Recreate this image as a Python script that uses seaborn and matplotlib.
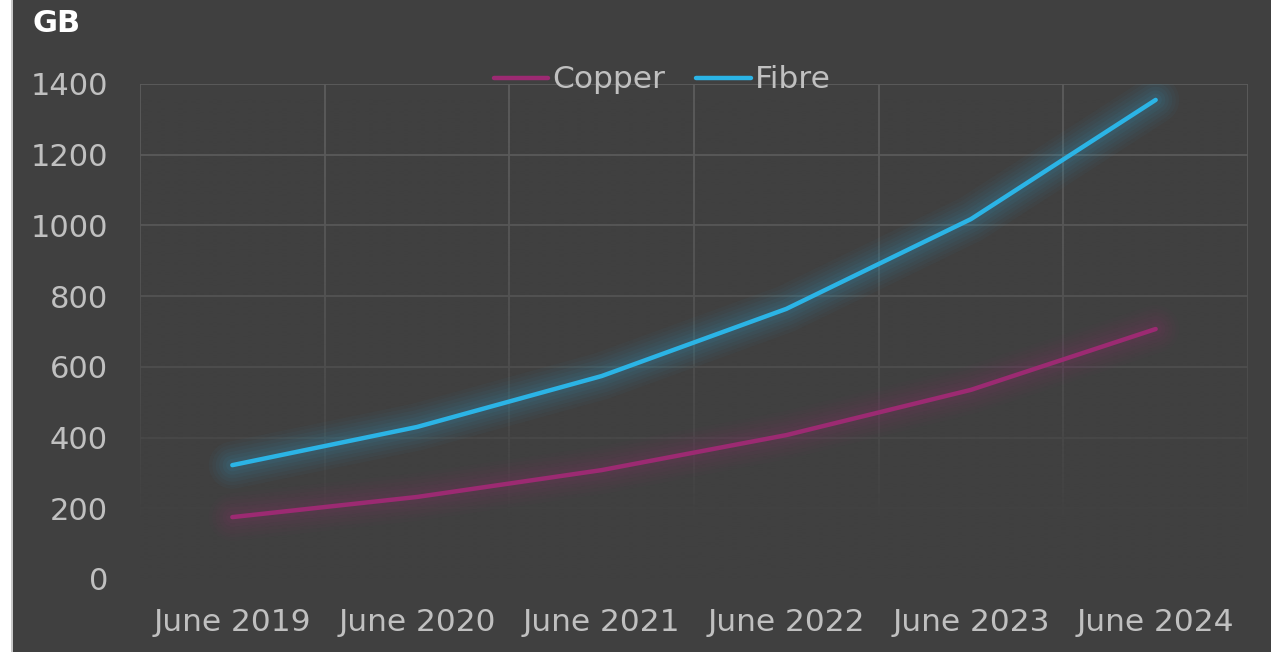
import numpy as np
import pandas as pd
import matplotlib
matplotlib.use("Agg")
import matplotlib.pyplot as plt
from matplotlib.lines import Line2D
from matplotlib.patches import Rectangle
import seaborn as sns

# Average monthly data usage per line (GB)
periods = ["June 2019", "June 2020", "June 2021", "June 2022", "June 2023", "June 2024"]
copper = [175, 232, 308, 407, 535, 707]
fibre = [322, 430, 574, 764, 1018, 1355]
y_ticks = [0, 200, 400, 600, 800, 1000, 1200, 1400]

BG = "#404040"
GRID = "#5c5c5c"
TEXT = "#c0c0c0"
COPPER_C = "#9c2a72"
FIBRE_C = "#2bb4e6"

df = pd.DataFrame({
    "period": pd.Categorical(periods * 2, categories=periods, ordered=True),
    "value": copper + fibre,
    "series": ["Copper"] * len(periods) + ["Fibre"] * len(periods),
})
palette = {"Copper": COPPER_C, "Fibre": FIBRE_C}

sns.set_style("dark")
plt.rcParams["font.family"] = ["DejaVu Sans"]

fig = plt.figure(figsize=(12.71, 6.52), dpi=100)
fig.patch.set_facecolor(BG)
ax = fig.add_axes([140 / 1271, 1 - 579 / 652, 1108 / 1271, 495 / 652])
ax.set_facecolor(BG)

# white strip with a thin grey edge on the left of the canvas
fig.patches.append(Rectangle((0, 0), 11 / 1271, 1, transform=fig.transFigure,
                             facecolor="white", edgecolor="none", zorder=-5))
fig.patches.append(Rectangle((11 / 1271, 0), 2 / 1271, 1, transform=fig.transFigure,
                             facecolor="#c8c8c8", edgecolor="none", zorder=-5))

# soft, wide glow underneath each line
for lw, a in [(34, 0.03), (29, 0.035), (24, 0.04), (19, 0.045), (14, 0.05), (9, 0.06)]:
    sns.lineplot(data=df, x="period", y="value", hue="series", palette=palette,
                 linewidth=lw, alpha=a, legend=False, ax=ax, zorder=3,
                 solid_capstyle="round", solid_joinstyle="round")
sns.lineplot(data=df, x="period", y="value", hue="series", palette=palette,
             linewidth=3.2, legend=False, ax=ax, zorder=4,
             solid_capstyle="round", solid_joinstyle="round")

n = len(periods)

# grid on category boundaries and value ticks
for yv in y_ticks[1:]:
    ax.axhline(yv, color=GRID, linewidth=1.3, zorder=0.5)
for xv in np.arange(-0.5, n, 1.0):
    ax.axvline(xv, color=GRID, linewidth=1.3, zorder=0.5)

# grid fades out toward the bottom of the plot
t = np.linspace(0, 1, 256)[:, None]
rgba = np.zeros((256, 1, 4))
rgba[..., :3] = matplotlib.colors.to_rgb(BG)
rgba[..., 3] = np.clip((t ** 1.6) * 1.2, 0, 1)
ax.imshow(rgba, extent=(-0.5, n - 0.5, 0, 1400), aspect="auto",
          origin="upper", zorder=1, interpolation="bilinear")
ax.set_xlim(-0.5, n - 0.5)
ax.set_ylim(0, 1400)

ax.set_yticks(y_ticks)
ax.set_yticklabels([str(v) for v in y_ticks])
ax.set_xticks(range(n))
ax.set_xticklabels(periods)
ax.tick_params(axis="y", length=0, pad=23, labelsize=22, labelcolor=TEXT)
ax.tick_params(axis="x", length=0, pad=21, labelsize=22.5, labelcolor=TEXT)
ax.set_xlabel("")
ax.set_ylabel("")
ax.grid(False)
for s in ax.spines.values():
    s.set_visible(False)

handles = [Line2D([0], [0], color=COPPER_C, linewidth=3.2),
           Line2D([0], [0], color=FIBRE_C, linewidth=3.2)]
leg = ax.legend(handles, ["Copper", "Fibre"], loc="center",
                bbox_to_anchor=((662 - 140) / 1108, (579 - 80) / 495),
                ncol=2, frameon=False, fontsize=22.5, labelcolor=TEXT,
                handlelength=1.75, handletextpad=0.12, columnspacing=1.0,
                borderpad=0)
leg.set_zorder(6)

fig.text(32 / 1271, 1 - 24 / 652, "GB", fontsize=22, fontweight="bold",
         color="white", va="center", ha="left")

fig.savefig("out.png", dpi=100, facecolor=BG)
